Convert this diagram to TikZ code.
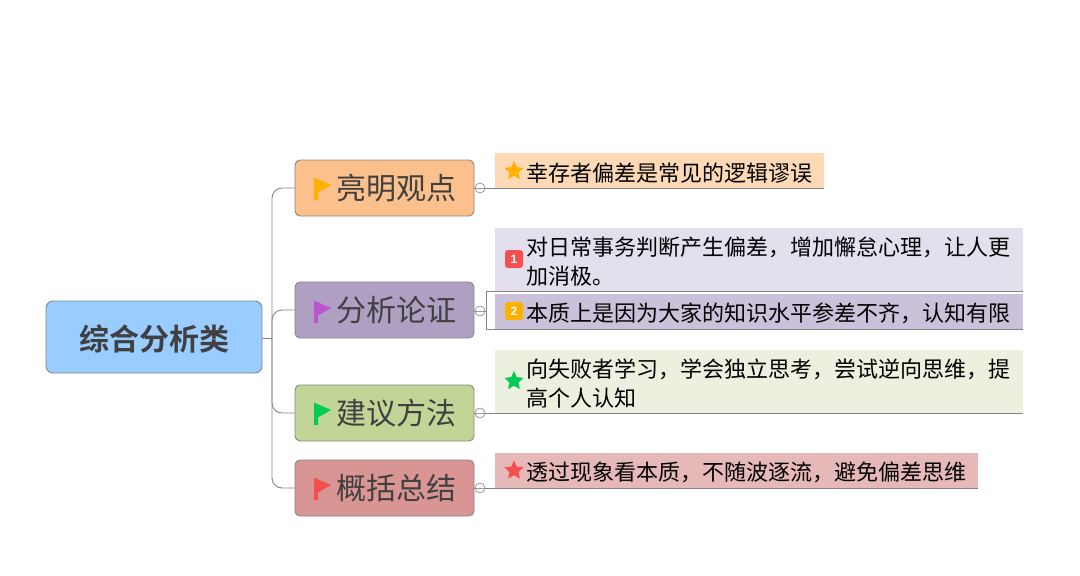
\documentclass[tikz,border=0pt]{standalone}
\usepackage{fontspec}
\setmainfont{Noto Sans CJK SC}[BoldFont={Noto Sans CJK SC Bold}]
\newfontfamily\badgefont{Liberation Sans}
\usetikzlibrary{shapes.geometric, positioning, calc}
\definecolor{rootfill}{HTML}{99CCFF}
\definecolor{edgegray}{HTML}{858585}
\definecolor{foldgray}{HTML}{999999}
\definecolor{inkgray}{HTML}{404040}
\definecolor{flagorange}{HTML}{FFB000}
\definecolor{flagpurple}{HTML}{BE55D0}
\definecolor{flaggreen}{HTML}{00CC55}
\definecolor{flagred}{HTML}{F45050}
\definecolor{topicorange}{HTML}{FBC08C}
\definecolor{topicpurple}{HTML}{AE9FC3}
\definecolor{topicgreen}{HTML}{C1D597}
\definecolor{topicred}{HTML}{D99594}
\definecolor{leaforange}{HTML}{FDD9B5}
\definecolor{leaflilac}{HTML}{E4DFEC}
\definecolor{leafpurple}{HTML}{CCC1DA}
\definecolor{leafgreen}{HTML}{EBF1DE}
\definecolor{leafred}{HTML}{E6B8B7}

\begin{document}
\begin{tikzpicture}[
  x=1pt, y=-1pt,
  root/.style={draw=edgegray, line width=0.9pt, rounded corners=7pt, fill=rootfill, text=inkgray,
               minimum width=216pt, minimum height=72pt, inner sep=0pt, text height=30pt,
               font=\fontsize{30}{34}\selectfont\bfseries},
  topic/.style={draw=edgegray, line width=0.9pt, rounded corners=5pt, text=inkgray,
                minimum height=56pt, inner sep=0pt, text width=179pt, align=left,
                execute at begin node={\leftskip=41pt\relax},
                font=\fontsize{30}{34}\selectfont},
  leaf/.style={anchor=south west, inner sep=0pt, align=left, text width=#1, text=black,
               execute at begin node={\leftskip=31pt\relax\leavevmode\rule{0pt}{23.5pt}},
               font=\fontsize{22}{29}\selectfont},
  link/.style={draw=edgegray, line width=0.9pt, rounded corners=10pt},
  under/.style={draw=edgegray, line width=0.9pt},
  fold/.style={circle, draw=foldgray, fill=white, line width=0.8pt, minimum size=10pt, inner sep=0pt,
               path picture={\draw[foldgray, line width=0.8pt]
                 (path picture bounding box.west) -- (path picture bounding box.east);}},
  staricon/.style={star, star points=5, star point ratio=2.1, fill=#1, minimum size=20pt, inner sep=0pt},
  badge/.style={rounded corners=3pt, fill=#1, text=white, minimum size=18pt, inner sep=0pt,
                font=\badgefont\fontsize{12}{12}\selectfont\bfseries},
  flagicon/.pic={\fill[pic actions] (0,-10.5) -- (17,-3) -- (4,4.5) -- (4,12) -- (0,12) -- cycle;},
]
\useasboundingbox (0,0) rectangle (1080,576);

% --- root
\node[root] (root) at (154,337) {综合分析类};

% --- topics
\node[topic, fill=topicorange] (t1) at (384.5,188) {亮明观点};
\node[topic, fill=topicpurple] (t2) at (384.5,310) {分析论证};
\node[topic, fill=topicgreen]  (t3) at (384.5,413) {建议方法};
\node[topic, fill=topicred]    (t4) at (384.5,488) {概括总结};
\pic[fill=flagorange] at (314,188) {flagicon};
\pic[fill=flagpurple] at (314,311) {flagicon};
\pic[fill=flaggreen]  at (314,413) {flagicon};
\pic[fill=flagred]    at (314,488) {flagicon};

% --- trunk
\coordinate (trunk) at (272,338);
\draw[under] (root.east |- trunk) -- (trunk);
\draw[link] (trunk) |- (t1.west);
\draw[link] (trunk) |- (t2.west);
\draw[link] (trunk) |- (t3.west);
\draw[link] (trunk) |- (t4.west);

% --- leaves
\node[leaf=329pt, fill=leaforange, minimum height=35pt] (l1) at (495,188) {幸存者偏差是常见的逻辑谬误};
\node[leaf=528pt, fill=leaflilac,  minimum height=63pt] (l2a) at (495,291) {对日常事务判断产生偏差，增加懈怠心理，让人更\\加消极。};
\node[leaf=528pt, fill=leafpurple, minimum height=35pt] (l2b) at (495,329) {本质上是因为大家的知识水平参差不齐，认知有限};
\node[leaf=528pt, fill=leafgreen,  minimum height=63pt] (l3) at (495,413) {向失败者学习，学会独立思考，尝试逆向思维，提\\高个人认知};
\node[leaf=483pt, fill=leafred,    minimum height=35pt] (l4) at (495,488) {透过现象看本质，不随波逐流，避免偏差思维};

% --- icons
\node[staricon=flagorange] (s1) at (514,171) {};
\node[badge=flagred]       (b1) at (514,259) {1};
\node[badge=flagorange]    (b2) at (514,311) {2};
\node[staricon=flaggreen]  (s3) at (514,381) {};
\node[staricon=flagred]    (s4) at (514,470.5) {};

% --- fold marks
\node[fold] (f1) at (480,188) {};
\node[fold] (f2) at (480,311) {};
\node[fold] (f3) at (480,413) {};
\node[fold] (f4) at (480,488) {};
\coordinate (brk) at (486.5,311);

\draw[under] (t1.east) -- (f1);
\draw[under] (t2.east |- f2) -- (f2);
\draw[under] (t3.east) -- (f3);
\draw[under] (t4.east) -- (f4);
\draw[under] (f1) -- (l1.south east);
\draw[under] (f3) -- (l3.south east);
\draw[under] (f4) -- (l4.south east);
\draw[under] (f2) -- (brk);
\draw[under] (l2a.south east) -- (l2a.south east -| brk) -- (l2b.south east -| brk) -- (l2b.south east);
\end{tikzpicture}
\end{document}
